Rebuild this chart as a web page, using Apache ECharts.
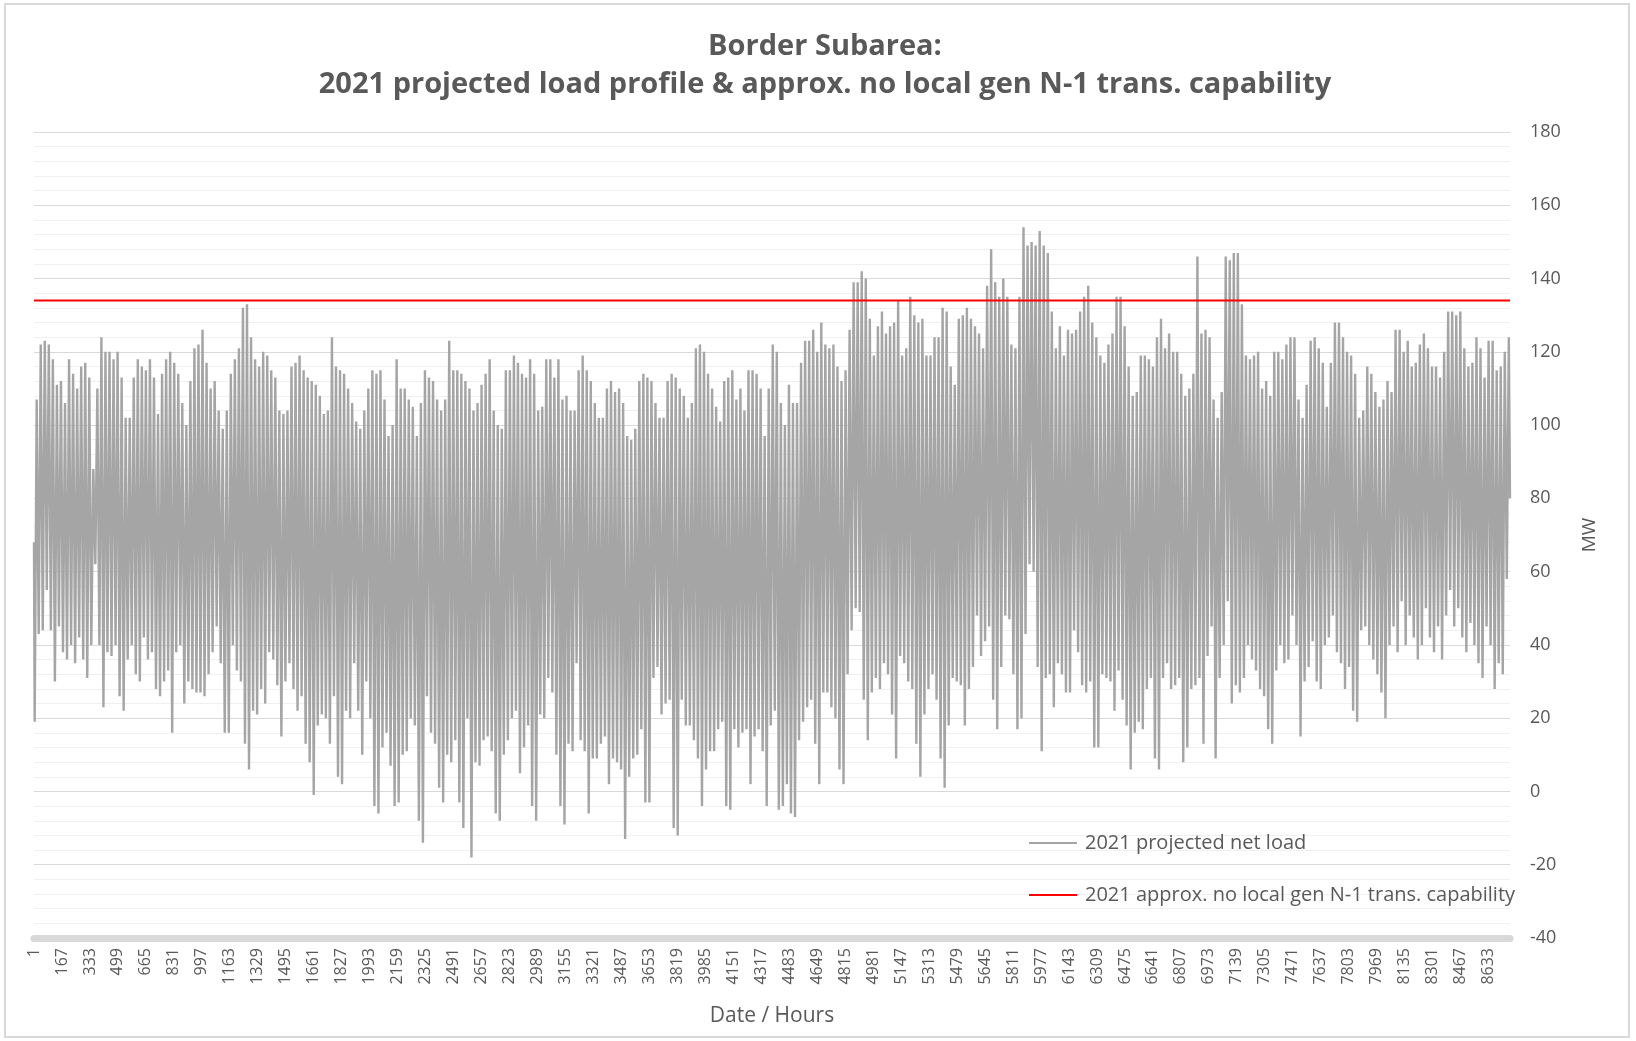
<!DOCTYPE html>
<html>
<head>
<meta charset="utf-8">
<title>Border Subarea load profile</title>
<script src="https://cdn.jsdelivr.net/npm/echarts@6/dist/echarts.min.js"></script>
<style>
    html, body { margin: 0; padding: 0; background: #fff; }
    #chart { width: 1636px; height: 1041px; }
</style>
</head>
<body>
<div id="chart"></div>
<script>
// daily low (night) and daily peak of the 2021 projected net load, MW
const lowLoad = [
    19, 43, 44, 55, 44, 30, 45, 38, 36, 40, 35,
    42, 36, 31, 40, 62, 40, 23, 38, 37, 40,
    26, 22, 36, 40, 32, 30, 42, 36, 38, 28,
    26, 30, 33, 16, 38, 40, 24, 30, 28, 27,
    27, 26, 32, 38, 45, 35, 16, 16, 40, 33,
    30, 13, 6, 22, 21, 28, 24, 38, 36, 29,
    15, 30, 35, 28, 22, 26, 13, 8, -1, 18,
    21, 20, 13, 26, 4, 2, 22, 20, 35, 22,
    10, 30, 20, -4, -6, 12, 16, 7, -4, -3,
    10, 11, 20, 18, -8, -14, 26, 16, 13, 1,
    -3, 10, 8, 14, -3, -10, 20, -18, 8, 7,
    14, 15, 11, -6, -8, 10, 14, 20, 22, 5, 12, 18,
    -4, -8, 21, 20, 31, 27, 10, -4, -9, 13,
    11, 35, 14, 11, -6, 9, 9, 13, 15, 2,
    9, 8, 6, -13, 4, 9, 10, 17, -3, -3,
    31, 34, 21, 24, 25, -10, -12, 25, 18, 18,
    14, 9, -4, 6, 11, 11, 17, 19, -4, -5,
    17, 12, 16, 17, 2, 15, 17, 11, -4, 18, 22, -5,
    -4, 2, -6, -7, 14, 19, 23, 25, 13, 2,
    27, 27, 23, 20, 6, 2, 32, 44, 50, 49,
    25, 14, 27, 31, 28, 35, 32, 21, 9, 37,
    35, 30, 28, 13, 4, 21, 28, 32, 25, 9,
    1, 18, 31, 30, 29, 18, 28, 34, 48, 37,
    41, 45, 25, 17, 34, 48, 47, 32, 17, 20, 43, 62,
    60, 34, 11, 31, 32, 23, 35, 32, 27, 27,
    44, 38, 29, 27, 30, 12, 12, 32, 31, 30,
    22, 33, 25, 18, 6, 16, 19, 17, 28, 31,
    9, 6, 31, 35, 28, 29, 31, 8, 12, 28,
    29, 31, 13, 37, 45, 9, 31, 40, 52, 24,
    29, 27, 31, 40, 36, 33, 28, 26, 17, 13, 33, 40,
    35, 36, 48, 40, 15, 30, 34, 41, 30, 28,
    40, 42, 48, 38, 35, 28, 34, 22, 19, 44,
    45, 40, 36, 32, 27, 20, 40, 45, 38, 52,
    40, 48, 42, 36, 40, 50, 42, 38, 45, 36,
    48, 55, 45, 50, 42, 38, 46, 40, 35, 31,
    45, 40, 28, 35, 32, 58
];
const peakLoad = [
    107, 122, 123, 122, 118, 111, 112, 106, 118, 114,
    110, 116, 117, 113, 88, 110, 124, 120, 120, 118,
    120, 113, 102, 102, 113, 118, 116, 115, 118, 113,
    103, 114, 118, 120, 117, 114, 106, 100, 112, 121,
    122, 126, 117, 110, 112, 104, 99, 104, 114, 118,
    121, 132, 133, 124, 118, 116, 120, 119, 115, 113, 104,
    103, 104, 116, 117, 119, 115, 113, 112, 111, 108,
    103, 104, 124, 116, 115, 114, 110, 106, 101, 99,
    104, 110, 115, 114, 115, 107, 97, 100, 118, 110,
    110, 107, 105, 97, 106, 115, 113, 112, 107, 104,
    107, 123, 115, 115, 114, 112, 110, 104, 106, 111,
    114, 118, 104, 100, 99, 115, 115, 119, 117, 114, 113, 118,
    114, 104, 105, 118, 118, 113, 118, 107, 108, 104,
    104, 115, 119, 115, 112, 106, 102, 102, 110, 112,
    109, 110, 106, 97, 96, 99, 112, 114, 113, 112,
    106, 102, 102, 112, 114, 113, 110, 108, 102, 106,
    121, 122, 120, 114, 110, 105, 101, 112, 113, 115,
    107, 110, 104, 115, 115, 114, 110, 97, 110, 122, 120, 106,
    100, 111, 106, 106, 117, 123, 123, 126, 120, 128,
    122, 121, 122, 116, 112, 115, 126, 139, 139, 142,
    140, 129, 119, 127, 131, 125, 127, 128, 134, 119,
    121, 135, 130, 128, 129, 119, 119, 124, 124, 132,
    131, 116, 111, 129, 130, 132, 129, 127, 125, 121,
    138, 148, 139, 135, 140, 135, 122, 121, 135, 154, 149, 150,
    149, 153, 149, 147, 131, 121, 127, 119, 126, 125,
    126, 131, 135, 138, 128, 124, 119, 117, 122, 125,
    135, 135, 127, 116, 108, 109, 119, 119, 118, 116,
    124, 129, 121, 125, 120, 120, 114, 108, 110, 114,
    146, 125, 126, 124, 107, 102, 109, 146, 145, 147,
    147, 133, 119, 118, 119, 120, 110, 112, 108, 120, 120, 118,
    122, 124, 124, 107, 102, 111, 123, 124, 121, 117,
    105, 117, 128, 128, 124, 120, 119, 114, 102, 104,
    116, 114, 109, 105, 107, 112, 109, 126, 126, 120,
    123, 116, 117, 122, 125, 121, 116, 116, 113, 120,
    131, 131, 130, 131, 121, 116, 117, 124, 121, 113,
    123, 123, 115, 116, 120, 124
];
const startLoad = 68;   // hour 1
const endLoad = 80;     // hour 8760
const capability = 134; // approx. no local gen N-1 trans. capability

const hoursInYear = 8760;
const lowHour = 4;
const peakHour = 16;

const hourLabels = [];
for (let h = 1; h <= hoursInYear; h++) {
    hourLabels.push(String(h));
}

let netLoad = [[0, startLoad]];
lowLoad.forEach((low, day) => {
    netLoad.push([day * 24 + lowHour, low]);
    netLoad.push([day * 24 + peakHour, peakLoad[day]]);
});
netLoad.push([hoursInYear - 1, endLoad]);

const capabilityLine = [[0, capability], [hoursInYear - 1, capability]];

const textColor = '#595959';
const font = 'Open Sans';

var myChart = echarts.init(document.getElementById('chart'));
var option = {
    animation: false,
    backgroundColor: '#fff',
    textStyle: { fontFamily: font },
    title: {
        text: 'Border Subarea:\n2021 projected load profile & approx. no local gen N-1 trans. capability',
        left: 820,
        top: 23,
        textAlign: 'center',
        textStyle: {
            fontFamily: font,
            fontSize: 29,
            fontWeight: 'bold',
            color: textColor,
            lineHeight: 38,
        },
    },
    graphic: [{
        type: 'rect',
        shape: { x: 5, y: 4, width: 1624, height: 1033 },
        style: { fill: 'none', stroke: '#d9d9d9', lineWidth: 2 },
        silent: true,
    }],
    legend: [
        {
            data: ['2021 projected net load'],
            left: 1024,
            top: 828,
            icon: 'rect',
            itemWidth: 48,
            itemHeight: 2,
            textStyle: { fontFamily: font, fontSize: 20, color: textColor, padding: [0, 0, 0, 3] },
        },
        {
            data: ['2021 approx. no local gen N-1 trans. capability'],
            left: 1024,
            top: 880,
            icon: 'rect',
            itemWidth: 48,
            itemHeight: 2,
            textStyle: { fontFamily: font, fontSize: 20, color: textColor, padding: [0, 0, 0, 3] },
        },
    ],
    grid: { left: 34, right: 126, top: 132, bottom: 103 },
    xAxis: {
        type: 'category',
        data: hourLabels,
        boundaryGap: false,
        name: 'Date / Hours',
        nameLocation: 'middle',
        nameGap: 68,
        nameTextStyle: { fontFamily: font, fontSize: 21, color: textColor },
        axisLine: { onZero: false, lineStyle: { color: '#d9d9d9', width: 7 } },
        axisTick: { show: false },
        axisLabel: {
            interval: 165,
            rotate: 90,
            margin: 10,
            fontSize: 16,
            color: textColor,
            fontFamily: font,
        },
        splitLine: { show: false },
    },
    yAxis: {
        type: 'value',
        position: 'right',
        min: -40,
        max: 180,
        interval: 20,
        name: 'MW',
        nameLocation: 'middle',
        nameRotate: 90,
        nameGap: 70,
        nameTextStyle: { fontFamily: font, fontSize: 19, color: textColor },
        axisLine: { show: false },
        axisTick: { show: false },
        axisLabel: { margin: 20, fontSize: 18, color: textColor, fontFamily: font },
        splitLine: { lineStyle: { color: '#d9d9d9', width: 1 } },
        minorTick: { show: false, splitNumber: 5 },
        minorSplitLine: { show: true, lineStyle: { color: '#f0f0f0', width: 1 } },
    },
    series: [
        {
            name: '2021 projected net load',
            type: 'line',
            data: netLoad,
            symbol: 'none',
            sampling: 'none',
            lineStyle: { color: '#a5a5a5', width: 2.4 },
            itemStyle: { color: '#a5a5a5' },
            z: 2,
        },
        {
            name: '2021 approx. no local gen N-1 trans. capability',
            type: 'line',
            data: capabilityLine,
            symbol: 'none',
            lineStyle: { color: '#ff0000', width: 2 },
            itemStyle: { color: '#ff0000' },
            z: 3,
        },
    ],
};
option && myChart.setOption(option);
</script>
</body>
</html>
